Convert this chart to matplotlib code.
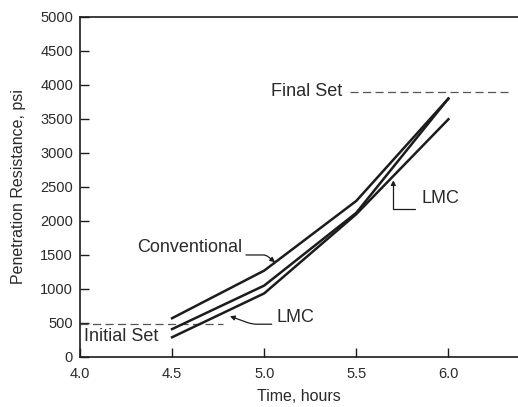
import matplotlib
matplotlib.use("Agg")
import matplotlib.pyplot as plt

# time of reading and penetration resistance (psi) for each mix
time_hr = [4.5, 5.0, 5.5, 6.0]
conventional = [570, 1270, 2295, 3800]
lmc_upper = [410, 1050, 2120, 3800]
lmc_lower = [290, 935, 2100, 3495]

initial_set = 485
final_set = 3900

x_ticks = [4.0, 4.5, 5.0, 5.5, 6.0]
x_tick_labels = ["4.0", "4.5", "5.0", "5.5", "6.0"]
y_ticks = [0, 500, 1000, 1500, 2000, 2500, 3000, 3500, 4000, 4500, 5000]

ink = "#1c1c1c"
txt = "#2a2a2a"
plt.rcParams["font.family"] = ["Liberation Sans", "DejaVu Sans"]

fig = plt.figure(figsize=(5.18, 4.07), dpi=100)
ax = fig.add_axes([0.1544, 0.1229, 0.8456, 0.8354])

# the three curves
for series in (conventional, lmc_upper, lmc_lower):
    ax.plot(time_hr, series, color=ink, lw=1.8, solid_joinstyle="miter", zorder=3)

# set limits, dashed reference lines
ax.plot([4.0, 4.776], [initial_set, initial_set], color="#555555", lw=0.9, dashes=(6.5, 3.5))
ax.plot([5.466, 6.324], [final_set, final_set], color="#555555", lw=0.9, dashes=(6.5, 3.5))
ax.text(4.022, 307, "Initial Set", fontsize=13, color=txt, ha="left", va="center")
ax.text(5.422, final_set, "Final Set", fontsize=13, color=txt, ha="right", va="center")

# leaders and labels
arrow = dict(arrowstyle="-|>", color=ink, lw=0.9, mutation_scale=7, shrinkA=0, shrinkB=0)

ax.text(4.88, 1608, "Conventional", fontsize=13, color=txt, ha="right", va="center")
ax.annotate("", xy=(5.059, 1393), xytext=(4.901, 1500),
            arrowprops=dict(arrow, connectionstyle="angle,angleA=0,angleB=-39,rad=3"))

ax.text(5.069, 585, "LMC", fontsize=13, color=txt, ha="left", va="center")
ax.annotate("", xy=(4.814, 600), xytext=(5.041, 482),
            arrowprops=dict(arrow, connectionstyle="angle,angleA=180,angleB=-20,rad=5"))

ax.text(5.855, 2325, "LMC", fontsize=13, color=txt, ha="left", va="center")
ax.annotate("", xy=(5.701, 2600), xytext=(5.819, 2183),
            arrowprops=dict(arrow, connectionstyle="angle,angleA=180,angleB=90,rad=0"))

ax.set_xlim(4.0, 6.378)
ax.set_ylim(0, 5000)
ax.set_xticks(x_ticks)
ax.set_xticklabels(x_tick_labels)
ax.set_yticks(y_ticks)
ax.tick_params(direction="in", length=6.5, width=1.0, color=ink, labelsize=10.5,
               labelcolor=txt)
ax.tick_params(axis="y", pad=5)
ax.tick_params(axis="x", pad=7)

ax.spines["right"].set_visible(False)
for side in ("left", "top", "bottom"):
    ax.spines[side].set_linewidth(1.2)
    ax.spines[side].set_color(ink)

ax.set_xlabel("Time, hours", fontsize=11.5, color=txt, labelpad=6)
ax.set_ylabel("Penetration Resistance, psi", fontsize=11.5, color=txt, labelpad=10)

fig.savefig("out.png", dpi=100)
